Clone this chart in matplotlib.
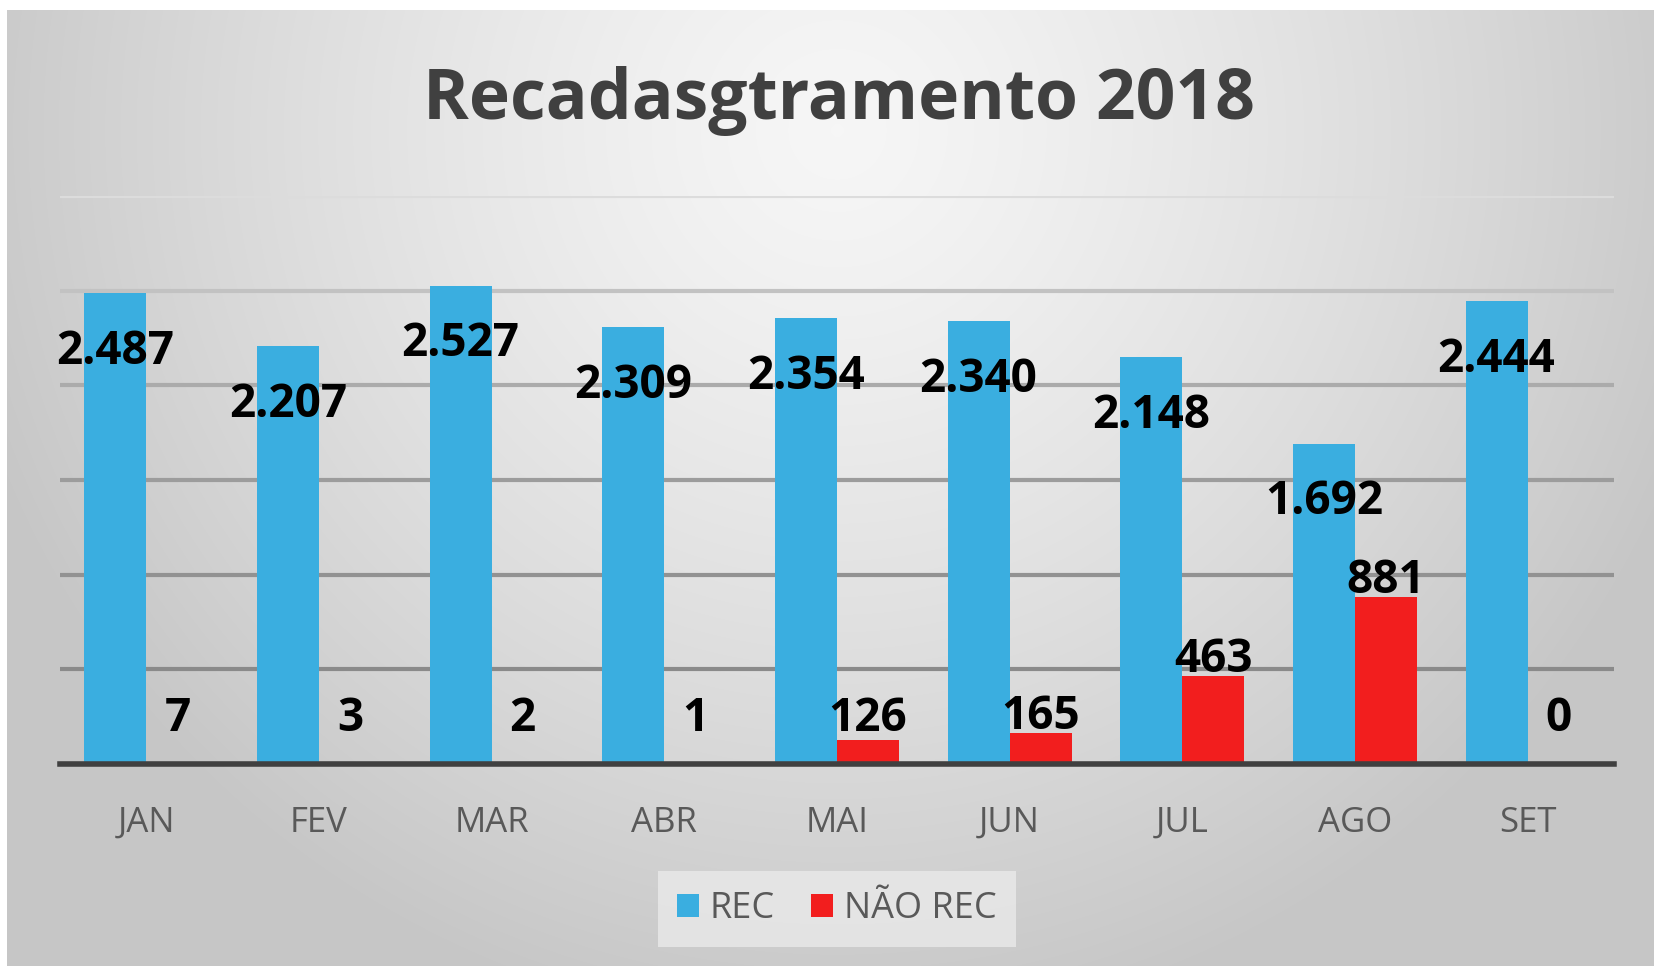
import numpy as np
import matplotlib
matplotlib.use('Agg')
import matplotlib.pyplot as plt

plt.rcParams['font.family'] = ['Open Sans', 'DejaVu Sans']

# dados do recadastramento
meses = ['JAN', 'FEV', 'MAR', 'ABR', 'MAI', 'JUN', 'JUL', 'AGO', 'SET']
rec = [2487, 2207, 2527, 2309, 2354, 2340, 2148, 1692, 2444]
nao_rec = [7, 3, 2, 1, 126, 165, 463, 881, 0]

cor_rec = '#3AAEE0'
cor_nao = '#F21E1E'

W, H = 1654, 966
fig = plt.figure(figsize=(W / 100, H / 100), dpi=100)
fig.patch.set_facecolor('white')

# fundo com gradiente (mais claro no alto, ao centro)
bg = fig.add_axes([7 / W, 0, 1 - 7 / W, (H - 10) / H])
bg.set_axis_off()
yy, xx = np.mgrid[0:956, 0:1647]
d = np.sqrt(((xx - 830) / 900.0) ** 2 + ((yy - 120) / 900.0) ** 2)
d = np.clip(d, 0, 1)
g = 0.965 - (0.965 - 0.78) * d ** 1.3
bg.imshow(np.dstack([g, g, g]), aspect='auto', interpolation='bilinear')

ax = fig.add_axes([60 / W, 202 / H, 1554 / W, 568 / H])
ax.patch.set_alpha(0)

x = np.arange(len(meses))
largura = 0.36
b1 = ax.bar(x - largura / 2, rec, largura, color=cor_rec, label='REC', zorder=3)
b2 = ax.bar(x + largura / 2, nao_rec, largura, color=cor_nao, label='NÃO REC', zorder=3)

ax.set_xlim(-0.5, len(meses) - 0.5)
ax.set_ylim(0, 3000)
ax.set_yticks(np.arange(0, 3001, 500))
ax.set_yticklabels([])
ax.tick_params(axis='y', length=0)
ax.yaxis.grid(True, linewidth=3, zorder=0)
cores_grade = ['#8A8A8A', '#8A8A8A', '#929292', '#9C9C9C', '#ABABAB', '#C2C2C2', '#DCDCDC']
for gl, c in zip(ax.yaxis.get_gridlines(), cores_grade):
    gl.set_color(c)
ax.set_axisbelow(True)

for s in ['top', 'right', 'left']:
    ax.spines[s].set_visible(False)
ax.spines['bottom'].set_color('#404040')
ax.spines['bottom'].set_linewidth(4)
ax.spines['bottom'].set_zorder(4)

ax.set_xticks(x)
ax.set_xticklabels(meses, fontsize=25, color='#595959')
ax.tick_params(axis='x', length=0, pad=30)


def fmt(v):
    return '{:,}'.format(v).replace(',', '.')


for xi, v in zip(x, rec):
    ax.annotate(fmt(v), (xi - largura / 2, v), xytext=(0, -42), textcoords='offset points',
                ha='center', va='center', fontsize=33, fontweight='bold', color='black', zorder=5)

for xi, v in zip(x, nao_rec):
    ax.annotate(fmt(v), (xi + largura / 2, max(v, 150)), xytext=(0, 12), textcoords='offset points',
                ha='center', va='center', fontsize=33, fontweight='bold', color='black', zorder=5)

fig.text(0.507, 0.895, 'Recadasgtramento 2018', ha='center', va='center',
         fontsize=50, fontweight='bold', color='#404040')

leg = fig.legend(handles=[b1, b2], loc='center', bbox_to_anchor=(0.506, 0.059), ncol=2,
                 fontsize=26, frameon=True, fancybox=False, handlelength=0.6, handleheight=0.6,
                 handletextpad=0.3, columnspacing=1.0, borderpad=0.55)
leg.get_frame().set_facecolor('#E8E8E8')
leg.get_frame().set_edgecolor('none')
leg.get_frame().set_alpha(0.85)
for t in leg.get_texts():
    t.set_color('#595959')

fig.savefig('out.png', dpi=100)
